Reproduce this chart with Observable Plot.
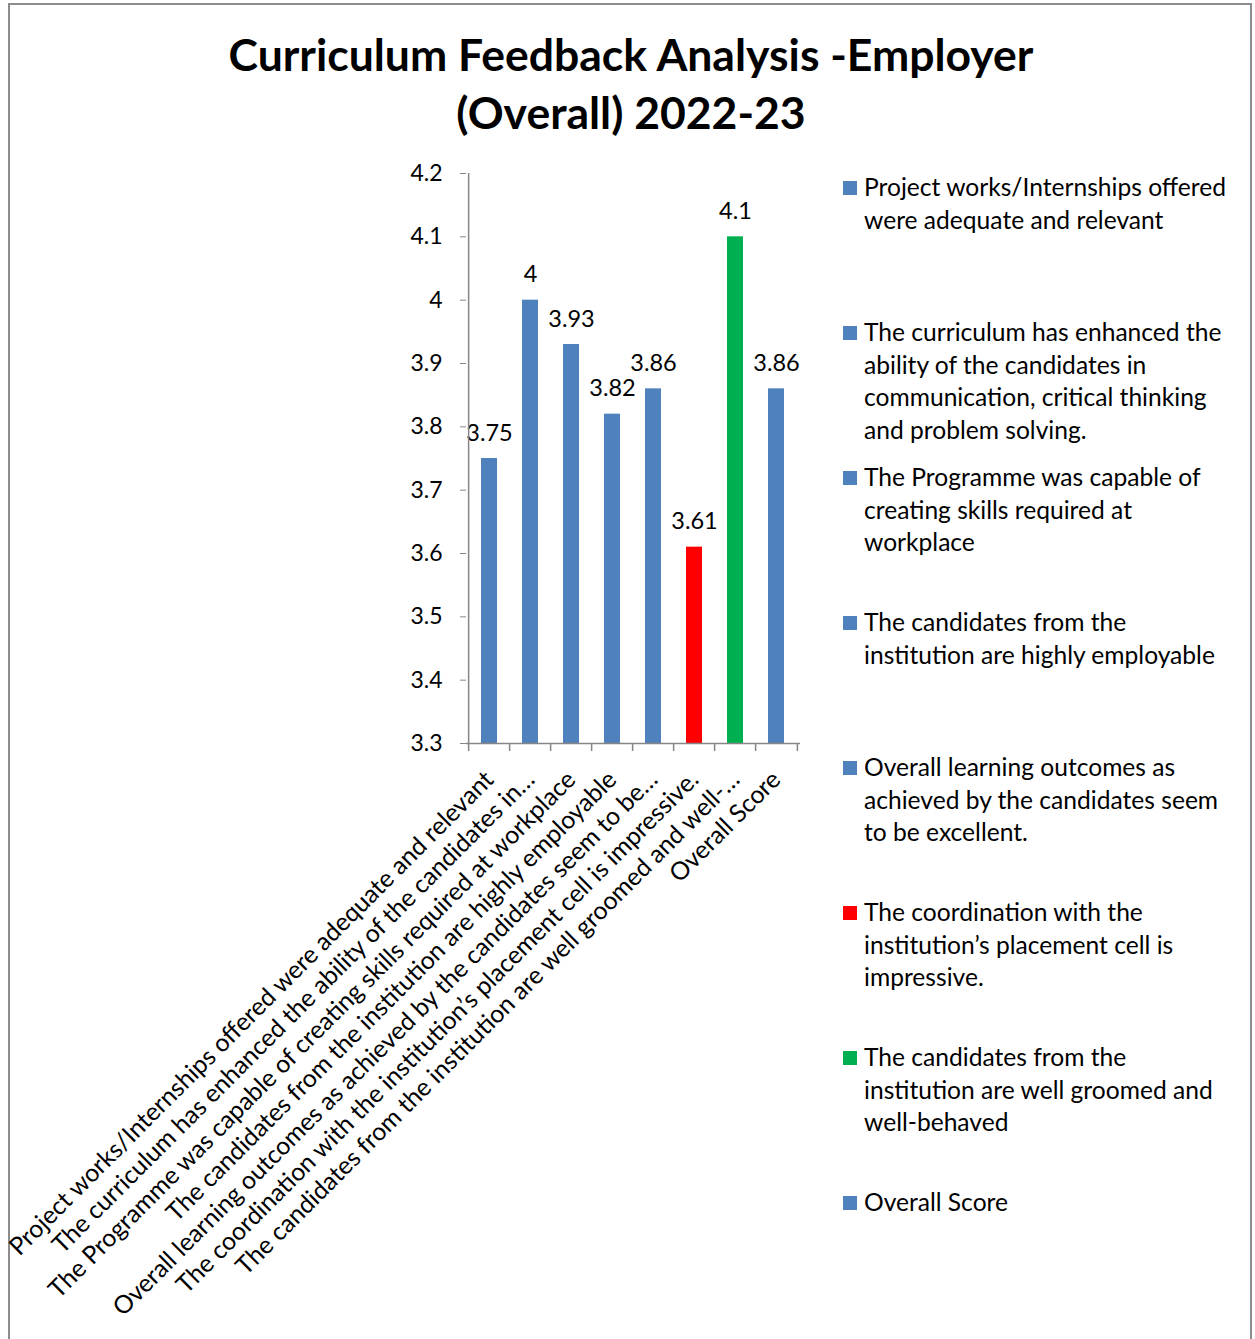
<!DOCTYPE html>
<html>
<head>
<meta charset="utf-8">
<script src="https://cdn.jsdelivr.net/npm/d3@7"></script>
<script src="https://cdn.jsdelivr.net/npm/@observablehq/plot@0.6"></script>
<style>
  html, body { margin: 0; padding: 0; background: #fff; }
  #page { position: relative; width: 1255px; height: 1339px; overflow: hidden; font-family: Lato, "Open Sans", sans-serif; color: #000; }
  #frame { position: absolute; left: 8px; top: 3px; width: 1244px; height: 1360px; border: 2px solid #8c8c8c; box-sizing: border-box; }
  #title { position: absolute; left: 8px; width: 1246px; top: 25px; text-align: center; font-weight: bold; font-size: 44.5px; line-height: 58px; }
  #chart { position: absolute; left: 0; top: 0; }
  #legend { position: absolute; left: 843px; top: 0; width: 410px; }
  .item { position: absolute; left: 0; font-size: 24.6px; line-height: 32.7px; white-space: nowrap; }
  .sw { position: absolute; left: 0; top: 10px; width: 14px; height: 14px; }
  .txt { position: absolute; left: 21px; top: 0; }
</style>
</head>
<body>
<div id="page">
  <div id="frame"></div>
  <div id="title">Curriculum Feedback Analysis -Employer<br>(Overall) 2022-23</div>
  <div id="chart"></div>
  <div id="legend"></div>
</div>
<script>
const categories = [
  "Project works/Internships offered were adequate and relevant",
  "The curriculum has enhanced the ability of the candidates in communication, critical thinking and problem solving.",
  "The Programme was capable of creating skills required at workplace",
  "The candidates from the institution are highly employable",
  "Overall learning outcomes as achieved by the candidates seem to be excellent.",
  "The coordination with the institution\u2019s placement cell is impressive.",
  "The candidates from the institution are well groomed and well-behaved",
  "Overall Score"
];
const axisLabels = [
  "Project works/Internships offered were adequate and relevant",
  "The curriculum has enhanced the ability of the candidates in\u2026",
  "The Programme was capable of creating skills required at workplace",
  "The candidates from the institution are highly employable",
  "Overall learning outcomes as achieved by the candidates seem to be\u2026",
  "The coordination with the institution\u2019s placement cell is impressive.",
  "The candidates from the institution are well groomed and well-\u2026",
  "Overall Score"
];
const values = [3.75, 4, 3.93, 3.82, 3.86, 3.61, 4.1, 3.86];
const colors = ["#4F81BD", "#4F81BD", "#4F81BD", "#4F81BD", "#4F81BD", "#FF0000", "#00B050", "#4F81BD"];
const legendLines = [
  ["Project works/Internships offered", "were adequate and relevant"],
  ["The curriculum has enhanced the", "ability of the candidates in", "communication, critical thinking", "and problem solving."],
  ["The Programme was capable of", "creating skills required at", "workplace"],
  ["The candidates from the", "institution are highly employable"],
  ["Overall learning outcomes as", "achieved by the candidates seem", "to be excellent."],
  ["The coordination with the", "institution\u2019s placement cell is", "impressive."],
  ["The candidates from the", "institution are well groomed and", "well-behaved"],
  ["Overall Score"]
];
const yTicks = [3.3, 3.4, 3.5, 3.6, 3.7, 3.8, 3.9, 4.0, 4.1, 4.2];

const data = categories.map((c, i) => ({cat: c, value: values[i], color: colors[i], label: String(values[i])}));
const labelOf = new Map(categories.map((c, i) => [c, axisLabels[i]]));

const W = 830, H = 1339, mL = 466, mR = 30, mT = 173, mB = H - 743;
const step = (W - mL - mR) / categories.length;

const plot = Plot.plot({
  width: W,
  height: H,
  marginLeft: mL,
  marginRight: mR,
  marginTop: mT,
  marginBottom: mB,
  style: {fontFamily: "Lato, 'Open Sans', sans-serif", fontSize: "22px", color: "#000", background: "transparent", overflow: "visible"},
  x: {domain: categories, paddingInner: 0.6, paddingOuter: 0.3},
  y: {domain: [3.3, 4.2]},
  marks: [
    Plot.barY(data, {x: "cat", y1: 3.3, y2: "value", fill: "color"}),
    Plot.text(data, {x: "cat", y: "value", text: "label", lineAnchor: "bottom", dy: -18, fontSize: 23.5, fill: "#000"}),
    Plot.axisY({ticks: yTicks, tickSize: 6, tickPadding: 18, tickFormat: d => String(+d.toFixed(1)), stroke: "#868686", fontSize: 23, label: null}),
    Plot.ruleY([3.3], {stroke: "#868686", strokeWidth: 1.5}),
    Plot.ruleX([categories[0]], {x: d => d, y1: 3.3, y2: 4.2, dx: -step / 2, stroke: "#868686", strokeWidth: 1.5}),
    Plot.ruleX(categories, {x: d => d, y1: 3.3, y2: 3.3, dx: -step / 2, insetBottom: -8, stroke: "#868686", strokeWidth: 1.5}),
    Plot.ruleX([categories[categories.length - 1]], {x: d => d, y1: 3.3, y2: 3.3, dx: step / 2, insetBottom: -8, stroke: "#868686", strokeWidth: 1.5}),
    Plot.axisX({tickSize: 0, tickPadding: 32, tickRotate: -45, tickFormat: d => labelOf.get(d), fontSize: 24.8, label: null})
  ]
});
document.getElementById("chart").appendChild(plot);

const legend = document.getElementById("legend");
legendLines.forEach((lines, i) => {
  const item = document.createElement("div");
  item.className = "item";
  item.style.top = (171 + i * 145) + "px";
  const sw = document.createElement("div");
  sw.className = "sw";
  sw.style.background = colors[i];
  const txt = document.createElement("div");
  txt.className = "txt";
  txt.innerHTML = lines.join("<br>");
  item.appendChild(sw);
  item.appendChild(txt);
  legend.appendChild(item);
});
</script>
</body>
</html>
